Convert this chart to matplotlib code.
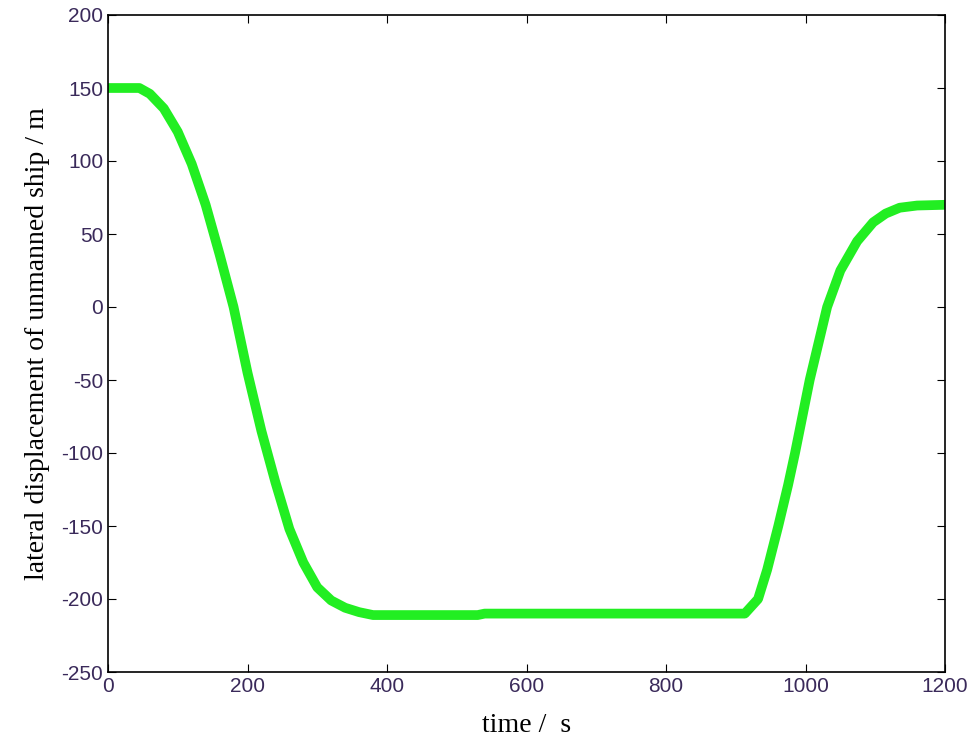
import matplotlib
matplotlib.use('Agg')
import matplotlib.pyplot as plt

plt.rcParams['axes.unicode_minus'] = False

t = [0, 20, 45, 60, 80, 100, 120, 140, 160, 180, 200, 220, 240, 260, 280, 300, 320, 340, 360, 380, 400, 450, 530, 540, 600, 700, 800, 900, 913, 932, 945, 961, 975, 985, 1006, 1031, 1050, 1074, 1097, 1115, 1135, 1160, 1200]
y = [150, 150, 150, 146, 136, 120, 98, 70, 36, 0, -45, -85, -120, -152, -175, -192, -201, -206, -209, -211, -211, -211, -211, -210, -210, -210, -210, -210, -210, -200, -180, -150, -122, -100, -50, 0, 25, 45, 58, 64, 68, 69.5, 70]

fig = plt.figure(figsize=(9.75, 7.53), dpi=100)
ax = fig.add_axes([108/975, 1-672/753, (945-108)/975, (672-15)/753])
ax.plot(t, y, color='#22ee22', lw=7, solid_capstyle='butt')
ax.set_xlim(0, 1200)
ax.set_ylim(-250, 200)
ax.set_xticks(range(0, 1201, 200))
ax.set_yticks(range(-250, 201, 50))
ax.tick_params(direction='in', top=True, right=True, labelsize=15, labelcolor='#3a2a5a', length=6)
for lab in ax.get_xticklabels() + ax.get_yticklabels():
    lab.set_family('Liberation Sans')
for s in ax.spines.values():
    s.set_linewidth(1.2)
ax.set_xlabel('time /  s', family='Liberation Serif', fontsize=20, labelpad=12)
ax.set_ylabel('lateral displacement of unmanned ship / m', family='Liberation Serif', fontsize=20, labelpad=8)
fig.savefig('out.png', dpi=100)
